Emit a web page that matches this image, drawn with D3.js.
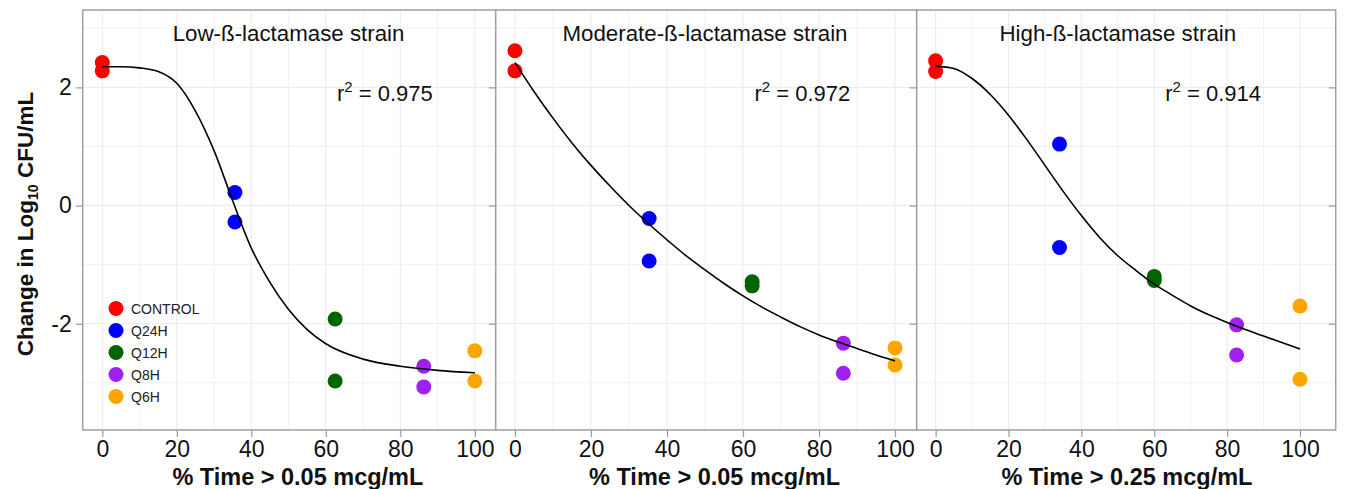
<!DOCTYPE html>
<html>
<head>
<meta charset="utf-8">
<script src="https://cdn.jsdelivr.net/npm/d3@7"></script>
<style>
  body { margin: 0; background: #fff; }
  svg { display: block; font-family: "Liberation Sans", Arial, sans-serif; }
</style>
</head>
<body>
<div id="chart"></div>
<script>
// groups and panel texts
const groups = ["CONTROL", "Q24H", "Q12H", "Q8H", "Q6H"]
const titles = ["Low-ß-lactamase strain", "Moderate-ß-lactamase strain", "High-ß-lactamase strain"]
const xTitles = ["% Time > 0.05 mcg/mL", "% Time > 0.05 mcg/mL", "% Time > 0.25 mcg/mL"]
const r2Values = ["0.975", "0.972", "0.914"]
const xTicks = [0, 20, 40, 60, 80, 100]
const yTicks = [-2, 0, 2]

// observed points: x, y, group
const lowPoints = [
    [0, 2.42, "CONTROL"], [0, 2.28, "CONTROL"],
    [35.6, 0.22, "Q24H"], [35.6, -0.28, "Q24H"],
    [62.5, -1.92, "Q12H"], [62.5, -2.97, "Q12H"],
    [86.3, -2.72, "Q8H"], [86.3, -3.07, "Q8H"],
    [100, -2.46, "Q6H"], [100, -2.97, "Q6H"]
]
const moderatePoints = [
    [0, 2.62, "CONTROL"], [0, 2.28, "CONTROL"],
    [35.3, -0.22, "Q24H"], [35.3, -0.94, "Q24H"],
    [62.4, -1.29, "Q12H"], [62.4, -1.36, "Q12H"],
    [86.4, -2.33, "Q8H"], [86.4, -2.84, "Q8H"],
    [100, -2.41, "Q6H"], [100, -2.70, "Q6H"]
]
const highPoints = [
    [0, 2.45, "CONTROL"], [0, 2.27, "CONTROL"],
    [34.0, 1.04, "Q24H"], [34.0, -0.71, "Q24H"],
    [60.0, -1.20, "Q12H"], [60.0, -1.27, "Q12H"],
    [82.6, -2.02, "Q8H"], [82.6, -2.53, "Q8H"],
    [100, -1.70, "Q6H"], [100, -2.94, "Q6H"]
]

// fitted curves
const lowFitX = [0, 5, 10, 15, 20, 25, 30, 35, 40, 45, 50, 55, 60, 70, 80, 90, 100]
const lowFitY = [2.35, 2.35, 2.33, 2.27, 2.07, 1.60, 0.93, 0.08, -0.72, -1.30, -1.76, -2.10, -2.34, -2.60, -2.72, -2.79, -2.83]
const moderateFitX = [0, 5, 10, 15, 20, 25, 30, 35, 40, 45, 50, 55, 60, 65, 70, 75, 80, 85, 90, 95, 100]
const moderateFitY = [2.42, 1.93, 1.48, 1.06, 0.68, 0.33, 0.0, -0.30, -0.58, -0.85, -1.09, -1.32, -1.53, -1.72, -1.89, -2.05, -2.19, -2.31, -2.42, -2.53, -2.63]
const highFitX = [0, 5, 10, 15, 20, 25, 30, 35, 40, 45, 50, 55, 60, 65, 70, 75, 80, 85, 90, 95, 100]
const highFitY = [2.36, 2.32, 2.15, 1.88, 1.53, 1.12, 0.68, 0.24, -0.17, -0.54, -0.85, -1.10, -1.33, -1.52, -1.70, -1.85, -1.98, -2.10, -2.21, -2.32, -2.43]

const pointSets = [lowPoints, moderatePoints, highPoints]
const fits = [[lowFitX, lowFitY], [moderateFitX, moderateFitY], [highFitX, highFitY]]

// layout
const width = 1345, height = 489
const panelTop = 10, panelBottom = 430
const edges = [82.7, 495.7, 916.7, 1335.7]
const xDomains = [[-5.26, 105.6], [-5.07, 105.7], [-5.2, 109.8]]

const color = d3.scaleOrdinal()
    .domain(groups)
    .range(["#ff0000", "#0000ff", "#006400", "#a020f0", "#ffa500"])

const yScale = d3.scaleLinear()
    .domain([-3.80, 3.31])
    .range([panelBottom, panelTop])

const svg = d3.select('#chart').append('svg')
    .attr('width', width)
    .attr('height', height)

for (let p = 0; p < 3; p++) {
    const xScale = d3.scaleLinear()
        .domain(xDomains[p])
        .range([edges[p], edges[p + 1]])

    const g = svg.append('g').attr('class', 'panel-' + p)

    g.append('rect')
        .attr('x', edges[p]).attr('y', panelTop)
        .attr('width', edges[p + 1] - edges[p]).attr('height', panelBottom - panelTop)
        .attr('fill', '#fff')

    /*
     * grid lines
     */
    g.selectAll('.vgrid')
        .data(d3.range(0, 101, 10))
        .enter().append('line')
        .attr('x1', d => xScale(d)).attr('x2', d => xScale(d))
        .attr('y1', panelTop).attr('y2', panelBottom)
        .style('stroke', '#ebebeb')
        .style('stroke-width', d => d % 20 === 0 ? 1 : 0.7)

    g.selectAll('.hgrid')
        .data(d3.range(-3, 4, 1))
        .enter().append('line')
        .attr('x1', edges[p]).attr('x2', edges[p + 1])
        .attr('y1', d => yScale(d)).attr('y2', d => yScale(d))
        .style('stroke', '#ebebeb')
        .style('stroke-width', d => d % 2 === 0 ? 1 : 0.7)

    /*
     * points, then the fitted curve on top
     */
    g.selectAll('circle.pt')
        .data(pointSets[p])
        .enter().append('circle')
        .attr('class', 'pt')
        .attr('cx', d => xScale(d[0]))
        .attr('cy', d => yScale(d[1]))
        .attr('r', 7.5)
        .style('fill', d => color(d[2]))

    const line = d3.line()
        .x(d => xScale(d[0]))
        .y(d => yScale(d[1]))
        .curve(d3.curveMonotoneX)

    g.append('path')
        .datum(d3.zip(fits[p][0], fits[p][1]))
        .attr('d', line)
        .style('fill', 'none')
        .style('stroke', '#000')
        .style('stroke-width', 1.6)

    /*
     * axes
     */
    const xAxis = d3.axisBottom(xScale)
        .tickValues(xTicks)
        .tickSize(7)
        .tickPadding(4)

    const gx = g.append('g')
        .attr('transform', `translate(0, ${panelBottom})`)
        .call(xAxis)
    gx.select('.domain').remove()
    gx.selectAll('line').style('stroke', '#999').style('stroke-width', 1.2)
    gx.selectAll('text').style('font-size', '23px').style('fill', '#111')
        .style('font-family', '"Liberation Sans", Arial, sans-serif')

    const gr = g.append('g')
        .attr('transform', `translate(${edges[p + 1]}, 0)`)
        .call(d3.axisLeft(yScale).tickValues(yTicks).tickSize(7).tickFormat(''))
    gr.select('.domain').remove()
    gr.selectAll('line').style('stroke', '#999').style('stroke-width', 1.2)

    if (p === 0) {
        const gy = g.append('g')
            .attr('transform', `translate(${edges[0]}, 0)`)
            .call(d3.axisLeft(yScale).tickValues(yTicks).tickSize(7).tickPadding(4)
                .tickFormat(d => String(d)))
        gy.select('.domain').remove()
        gy.selectAll('line').style('stroke', '#999').style('stroke-width', 1.2)
        gy.selectAll('text').style('font-size', '23px').style('fill', '#111')
            .style('font-family', '"Liberation Sans", Arial, sans-serif')
    }

    g.append('rect')
        .attr('x', edges[p]).attr('y', panelTop)
        .attr('width', edges[p + 1] - edges[p]).attr('height', panelBottom - panelTop)
        .style('fill', 'none')
        .style('stroke', '#a0a0a0')
        .style('stroke-width', 1.5)

    /*
     * titles and r squared
     */
    g.append('text')
        .attr('x', xScale(50)).attr('y', 41)
        .attr('text-anchor', 'middle')
        .style('font-size', '22.3px')
        .style('fill', '#111')
        .text(titles[p])

    const r2 = g.append('text')
        .attr('x', xScale(63)).attr('y', 101)
        .style('font-size', '22px')
        .style('fill', '#111')
    r2.append('tspan').text('r')
    r2.append('tspan').attr('dy', -9).style('font-size', '15px').text('2')
    r2.append('tspan').attr('dy', 9).text(' = ' + r2Values[p])

    g.append('text')
        .attr('x', xScale(52.5)).attr('y', 485)
        .attr('text-anchor', 'middle')
        .style('font-size', '23.5px')
        .style('font-weight', 'bold')
        .style('fill', '#111')
        .text(xTitles[p])
}

/*
 * y axis title with subscript
 */
const yTitle = svg.append('text')
    .attr('transform', `translate(33, ${(panelTop + panelBottom) / 2 + 4}) rotate(-90)`)
    .attr('text-anchor', 'middle')
    .style('font-size', '22.5px')
    .style('font-weight', 'bold')
    .style('fill', '#111')
yTitle.append('tspan').text('Change in Log')
yTitle.append('tspan').attr('dy', 5).style('font-size', '14px').text('10')
yTitle.append('tspan').attr('dy', -5).text(' CFU/mL')

/*
 * legend
 */
const legend = svg.append('g').attr('transform', 'translate(116, 308.5)')
groups.forEach((grp, i) => {
    legend.append('circle')
        .attr('cx', 0).attr('cy', i * 22)
        .attr('r', 7.5)
        .style('fill', color(grp))
    legend.append('text')
        .attr('x', 15).attr('y', i * 22)
        .attr('dy', '0.36em')
        .style('font-size', '14px')
        .style('fill', '#222')
        .text(grp)
})
</script>
</body>
</html>
